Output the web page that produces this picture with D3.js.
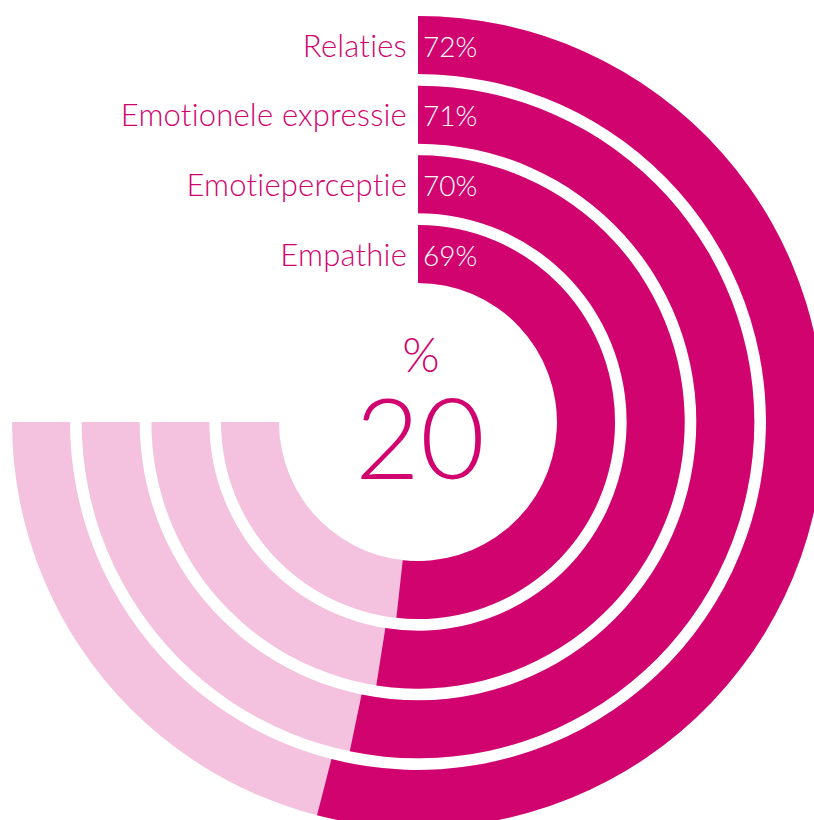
<!DOCTYPE html>
<html>
<head>
<meta charset="utf-8">
<script src="https://cdn.jsdelivr.net/npm/d3@7"></script>
<style>
  body { margin: 0; background: #fff; }
  svg { display: block; }
</style>
</head>
<body>
<div id="chart"></div>
<script>
var categories = ["Relaties", "Emotionele expressie", "Emotieperceptie", "Empathie"];
var values = [72, 71, 70, 69];
var centerValue = "20";
var centerUnit = "%";

var width = 814, height = 820;
var cx = 418, cy = 422;
var dark = "#d1036f", light = "#f4c2de";

var svg = d3.select("#chart").append("svg")
  .attr("width", width)
  .attr("height", height);

var g = svg.append("g")
  .attr("transform", "translate(" + cx + "," + cy + ")");

// radius per ring, innermost = Empathie
var r = d3.scaleBand()
  .domain(categories.slice().reverse())
  .range([139, 406])
  .paddingInner(0.1675)
  .paddingOuter(0);

// 100% = three quarters of a circle
var a = d3.scaleLinear()
  .domain([0, 100])
  .range([0, Math.PI * 1.5]);

var arc = d3.arc()
  .innerRadius(function(d) { return r(d.cat); })
  .outerRadius(function(d) { return r(d.cat) + r.bandwidth(); })
  .startAngle(0)
  .endAngle(function(d) { return a(d.v); });

var data = categories.map(function(c, i) { return {cat: c, v: values[i]}; });

g.selectAll("path.track")
  .data(data)
  .enter().append("path")
  .attr("class", "track")
  .attr("fill", light)
  .attr("d", function(d) { return arc({cat: d.cat, v: 100}); });

g.selectAll("path.bar")
  .data(data)
  .enter().append("path")
  .attr("class", "bar")
  .attr("fill", dark)
  .attr("d", arc);

var font = "Lato, 'Open Sans', sans-serif";

g.selectAll("text.cat")
  .data(data)
  .enter().append("text")
  .attr("class", "cat")
  .attr("x", -11)
  .attr("y", function(d) { return -(r(d.cat) + r.bandwidth() / 2) + 11.5; })
  .attr("text-anchor", "end")
  .attr("font-family", font)
  .attr("font-weight", 300)
  .attr("font-size", 31)
  .attr("letter-spacing", 0.2)
  .attr("fill", dark)
  .text(function(d) { return d.cat; });

g.selectAll("text.val")
  .data(data)
  .enter().append("text")
  .attr("class", "val")
  .attr("x", 5)
  .attr("y", function(d) { return -(r(d.cat) + r.bandwidth() / 2) + 11.5; })
  .attr("font-family", font)
  .attr("font-weight", 300)
  .attr("font-size", 28)
  .attr("fill", "#fff")
  .text(function(d) { return d.v + "%"; });

g.append("text")
  .attr("x", 3)
  .attr("y", -50)
  .attr("text-anchor", "middle")
  .attr("font-family", font)
  .attr("font-weight", 300)
  .attr("font-size", 48)
  .attr("fill", dark)
  .text(centerUnit);

g.append("text")
  .attr("x", 2)
  .attr("y", 57)
  .attr("text-anchor", "middle")
  .attr("font-family", font)
  .attr("font-weight", 300)
  .attr("font-size", 112)
  .attr("fill", dark)
  .text(centerValue);
</script>
</body>
</html>
